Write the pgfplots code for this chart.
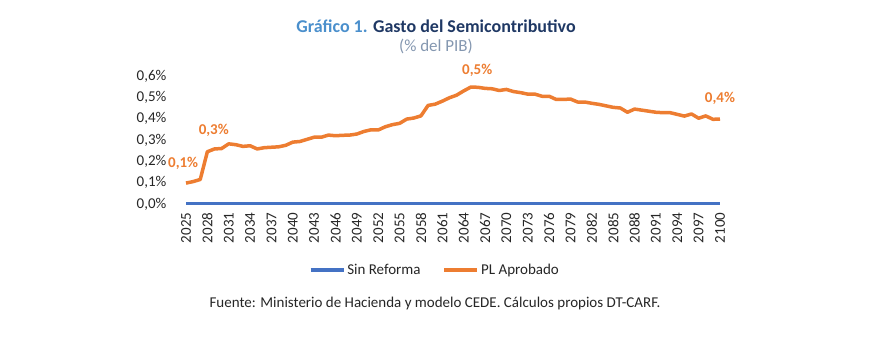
\documentclass[border=0pt]{standalone}
\usepackage{pgfplots}
\pgfplotsset{compat=1.18}
\usepackage{fontspec}
\setmainfont{Carlito}
\definecolor{orangeL}{HTML}{ED7D31}
\definecolor{blueL}{HTML}{4472C4}
\definecolor{titleA}{HTML}{4A8FCC}
\definecolor{titleB}{HTML}{1F3864}
\definecolor{subT}{HTML}{8497B0}
\pgfplotstableread{
year val
2025 0.098
2026 0.105
2027 0.115
2028 0.245
2029 0.258
2030 0.260
2031 0.282
2032 0.278
2033 0.270
2034 0.273
2035 0.258
2036 0.264
2037 0.266
2038 0.268
2039 0.275
2040 0.290
2041 0.293
2042 0.303
2043 0.313
2044 0.313
2045 0.323
2046 0.320
2047 0.322
2048 0.323
2049 0.328
2050 0.340
2051 0.348
2052 0.347
2053 0.362
2054 0.372
2055 0.378
2056 0.398
2057 0.403
2058 0.413
2059 0.462
2060 0.468
2061 0.482
2062 0.498
2063 0.510
2064 0.530
2065 0.548
2066 0.547
2067 0.542
2068 0.540
2069 0.532
2070 0.537
2071 0.527
2072 0.522
2073 0.515
2074 0.515
2075 0.505
2076 0.505
2077 0.490
2078 0.490
2079 0.492
2080 0.478
2081 0.478
2082 0.472
2083 0.467
2084 0.460
2085 0.453
2086 0.450
2087 0.430
2088 0.445
2089 0.440
2090 0.435
2091 0.430
2092 0.428
2093 0.428
2094 0.420
2095 0.412
2096 0.422
2097 0.402
2098 0.413
2099 0.397
2100 0.398
}\pla
\pgfplotstableread{
year val
2025 0
2100 0
}\sinref
\begin{document}
\begin{tikzpicture}[x=1pt,y=1pt]
\path[use as bounding box] (0,0) rectangle (873,352);
\node[font=\fontsize{18}{20}\selectfont\bfseries] at (436,326) {\textcolor{titleA}{Gráfico 1.} \textcolor{titleB}{Gasto del Semicontributivo}};
\node[font=\fontsize{17}{19}\selectfont, text=subT] at (436,306) {(\% del PIB)};
\begin{axis}[
  at={(186pt,148pt)}, anchor=south west,
  scale only axis, width=534pt, height=128pt,
  xmin=2025, xmax=2100, ymin=0, ymax=0.6,
  axis lines=left,
  axis line style={draw=none},
  xtick={2025,2028,...,2100},
  xticklabel shift=3pt,
  xticklabel style={rotate=90, anchor=east, font=\fontsize{15}{17}\selectfont, text=black!85, /pgf/number format/set thousands separator={}},
  ytick={0,0.1,0.2,0.3,0.4,0.5,0.6},
  yticklabels={0{,}0\%,0{,}1\%,0{,}2\%,0{,}3\%,0{,}4\%,0{,}5\%,0{,}6\%},
  yticklabel style={font=\fontsize{15}{17}\selectfont, text=black!85, xshift=-14pt},
  tick style={draw=none},
  clip=false,
  /pgf/number format/assume math mode=true,
  legend style={at={(0.466,-0.516)}, anchor=center, draw=none, legend columns=2,
    font=\fontsize{15}{17}\selectfont, nodes={font=\fontsize{15}{17}\selectfont, text=black!85}, column sep=0pt,
    /tikz/every even column/.append style={column sep=20pt}},
  legend image code/.code={\draw[#1, line width=3.5pt] (0pt,0pt) -- (33pt,0pt);},
]
\addplot[blueL, line width=3pt] table[x=year,y=val]{\sinref};
\addlegendentry{Sin Reforma}
\addplot[orangeL, line width=3.5pt, line join=round] table[x=year,y=val]{\pla};
\addlegendentry{PL Aprobado}
\node[text=orangeL, font=\fontsize{15}{17}\selectfont\bfseries] at (axis cs:2024.6,0.192) {0,1\%};
\node[text=orangeL, font=\fontsize{15}{17}\selectfont\bfseries] at (axis cs:2028.9,0.347) {0,3\%};
\node[text=orangeL, font=\fontsize{15}{17}\selectfont\bfseries] at (axis cs:2065.9,0.628) {0,5\%};
\node[text=orangeL, font=\fontsize{15}{17}\selectfont\bfseries] at (axis cs:2100,0.497) {0,4\%};
\end{axis}
\node[anchor=west, font=\fontsize{15}{17}\selectfont, text=black!85] at (206,48) {Fuente: Ministerio de Hacienda y modelo CEDE. Cálculos propios DT-CARF.};
\end{tikzpicture}
\end{document}
